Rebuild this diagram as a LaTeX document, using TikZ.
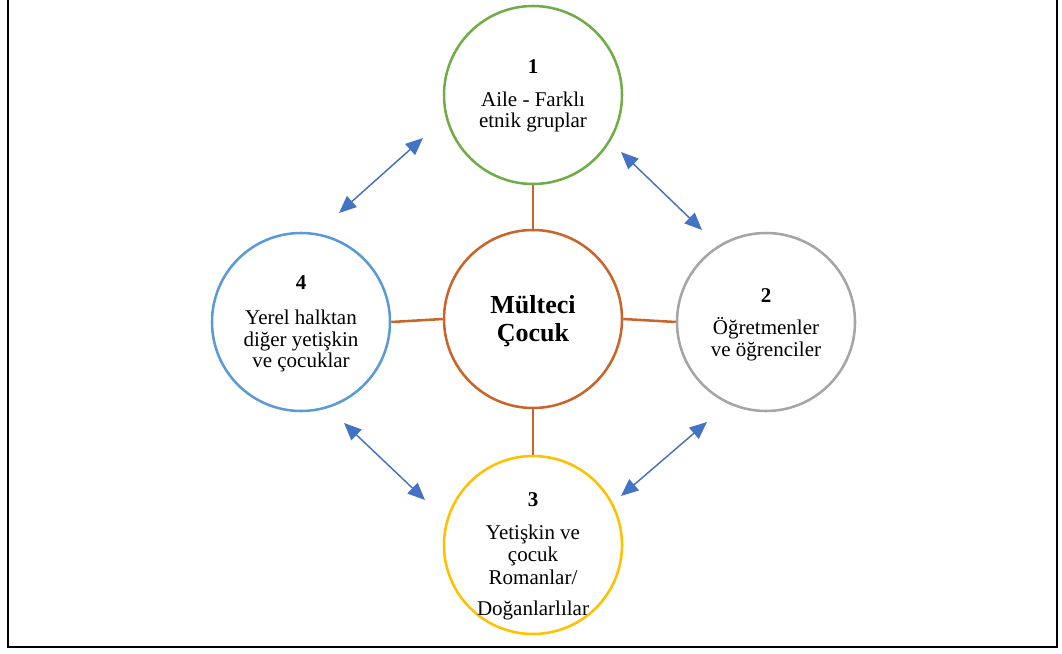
\documentclass[tikz,border=0pt]{standalone}
\usepackage{fontspec}
\setmainfont{Liberation Serif}
\usetikzlibrary{arrows.meta}
\definecolor{cgreen}{HTML}{70AD47}
\definecolor{corange}{HTML}{C9652A}
\definecolor{cblue}{HTML}{5B9BD5}
\definecolor{cgray}{HTML}{A5A5A5}
\definecolor{cyellow}{HTML}{FFC000}
\definecolor{carrow}{HTML}{4472C4}
\begin{document}
\begin{tikzpicture}[x=0.75pt,y=-0.75pt,
  ring/.style={circle,draw,line width=1.9pt,minimum size=133.5pt,inner sep=0pt},
  lbl/.style={font=\fontsize{15.75}{18}\selectfont,inner sep=0pt,anchor=base},
  num/.style={lbl,font=\fontsize{15.75}{18}\selectfont\bfseries},
  hub/.style={lbl,font=\fontsize{19.5}{22}\selectfont\bfseries},
  link/.style={draw=corange,line width=1.9pt},
  rel/.style={draw=carrow,line width=1.1pt,{Triangle[length=13pt,width=11pt]}-{Triangle[length=13pt,width=11pt]}}]
\useasboundingbox (0,0) rectangle (1062,653);
% outer frame, open at the top
\draw[line width=1.7pt] (8,0) -- (8,647) -- (1057,647) -- (1057,0);

% circles
\node[ring,draw=cgreen]  (c1) at (533,95)  {};
\node[ring,draw=corange] (cm) at (533,319) {};
\node[ring,draw=cgray]   (c2) at (766,322) {};
\node[ring,draw=cyellow] (c3) at (533,545) {};
\node[ring,draw=cblue]   (c4) at (301,322) {};

% spokes to the centre
\draw[link] (c1.south) -- (cm.north);
\draw[link] (c3.north) -- (cm.south);
\draw[link] (c4.east) -- (cm.west);
\draw[link] (c2.west) -- (cm.east);

% relations between the outer groups
\coordinate (a1) at (339,213); \coordinate (b1) at (423,138);
\coordinate (a2) at (621,152); \coordinate (b2) at (702,230);
\coordinate (a3) at (621,496); \coordinate (b3) at (707,422);
\coordinate (a4) at (344,423); \coordinate (b4) at (425,500);
\draw[rel] (a1) -- (b1);
\draw[rel] (a2) -- (b2);
\draw[rel] (a3) -- (b3);
\draw[rel] (a4) -- (b4);

% texts
\node[hub] (tm1) at (533,313) {Mülteci};
\node[hub] (tm2) at (533,341) {Çocuk};

\node[num] (n1) at (533,73) {1};
\node[lbl] (t11) at (533,106) {Aile - Farklı};
\node[lbl] (t12) at (533,127) {etnik gruplar};

\node[num] (n2) at (766,302) {2};
\node[lbl] (t21) at (766,334) {Öğretmenler};
\node[lbl] (t22) at (766,356) {ve öğrenciler};

\node[num] (n3) at (533,506) {3};
\node[lbl] (t31) at (533,539) {Yetişkin ve};
\node[lbl] (t32) at (533,561) {çocuk};
\node[lbl] (t33) at (533,584) {Romanlar/};
\node[lbl] (t34) at (533,615) {Doğanlarlılar};

\node[num] (n4) at (301,289) {4};
\node[lbl] (t41) at (301,324) {Yerel halktan};
\node[lbl] (t42) at (301,346) {diğer yetişkin};
\node[lbl] (t43) at (301,367) {ve çocuklar};
\end{tikzpicture}
\end{document}
